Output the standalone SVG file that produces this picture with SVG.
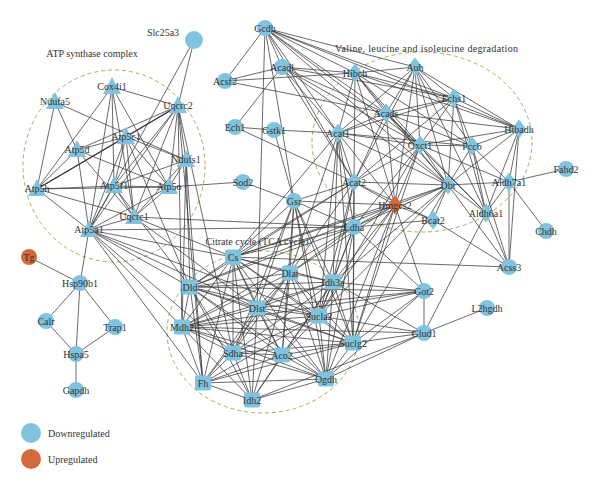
<svg xmlns="http://www.w3.org/2000/svg" xmlns:xlink="http://www.w3.org/1999/xlink" width="600" height="490" viewBox="0 0 600 490">
<style>
.e line{stroke:#3a3a3a;stroke-width:0.75}
.d{fill:#80c3df}
.u{fill:#d4693b}
text{font-family:"Liberation Serif","Times New Roman",serif;font-size:10px;fill:#333;text-anchor:middle}
.t{text-anchor:start}
.grp{fill:none;stroke:#8fbb5b;stroke-width:1;stroke-dasharray:4 3}
</style>
<defs>
<path id="tri" d="M0,-10 L9,7 L-9,7 Z"/>
<path id="dia" d="M0,-9.5 L7.5,0 L0,9.5 L-7.5,0 Z"/>
<rect id="sq" x="-8" y="-7.5" width="16" height="15" rx="2"/>
<circle id="cir" r="8"/>
</defs>
<rect width="600" height="490" fill="#fff"/>
<g id="groups">
<ellipse class="grp" cx="114" cy="166" rx="91" ry="96"/>
<ellipse class="grp" cx="422" cy="142" rx="110" ry="90"/>
<ellipse class="grp" cx="263" cy="332" rx="96" ry="81"/>
<text x="92" y="57">ATP synthase complex</text>
<text class="t" x="335" y="52" textLength="183">Valine, leucine and isoleucine degradation</text>
<text x="257" y="245">Citrate cycle (TCA cycle)</text>
</g>
<g class="e" id="connectors">
<line x1="29" y1="257" x2="80" y2="283"/>
<line x1="80" y1="283" x2="46" y2="321"/>
<line x1="80" y1="283" x2="115" y2="327"/>
<line x1="80" y1="283" x2="76" y2="354"/>
<line x1="46" y1="321" x2="76" y2="354"/>
<line x1="115" y1="327" x2="76" y2="354"/>
<line x1="76" y1="354" x2="76" y2="390"/>
<line x1="80" y1="283" x2="89" y2="230"/>
<line x1="194" y1="40" x2="178" y2="106"/>
<line x1="194" y1="40" x2="89" y2="230"/>
<line x1="112" y1="87" x2="178" y2="106"/>
<line x1="112" y1="87" x2="37" y2="189"/>
<line x1="112" y1="87" x2="114" y2="186"/>
<line x1="112" y1="87" x2="169" y2="187"/>
<line x1="112" y1="87" x2="134" y2="217"/>
<line x1="112" y1="87" x2="89" y2="230"/>
<line x1="55" y1="102" x2="186" y2="160"/>
<line x1="55" y1="102" x2="37" y2="189"/>
<line x1="55" y1="102" x2="77" y2="150"/>
<line x1="178" y1="106" x2="126" y2="137"/>
<line x1="178" y1="106" x2="77" y2="150"/>
<line x1="178" y1="106" x2="37" y2="189" style="stroke-width:1.3"/>
<line x1="178" y1="106" x2="114" y2="186"/>
<line x1="178" y1="106" x2="169" y2="187"/>
<line x1="178" y1="106" x2="134" y2="217"/>
<line x1="178" y1="106" x2="89" y2="230"/>
<line x1="178" y1="106" x2="186" y2="160"/>
<line x1="178" y1="106" x2="182" y2="327"/>
<line x1="178" y1="106" x2="203" y2="383"/>
<line x1="178" y1="106" x2="233" y2="353"/>
<line x1="126" y1="137" x2="77" y2="150"/>
<line x1="126" y1="137" x2="37" y2="189"/>
<line x1="126" y1="137" x2="186" y2="160"/>
<line x1="126" y1="137" x2="114" y2="186"/>
<line x1="126" y1="137" x2="169" y2="187"/>
<line x1="126" y1="137" x2="134" y2="217"/>
<line x1="126" y1="137" x2="89" y2="230"/>
<line x1="126" y1="137" x2="190" y2="287"/>
<line x1="77" y1="150" x2="37" y2="189"/>
<line x1="77" y1="150" x2="169" y2="187"/>
<line x1="77" y1="150" x2="134" y2="217"/>
<line x1="77" y1="150" x2="89" y2="230"/>
<line x1="37" y1="189" x2="114" y2="186"/>
<line x1="37" y1="189" x2="169" y2="187"/>
<line x1="37" y1="189" x2="134" y2="217"/>
<line x1="37" y1="189" x2="89" y2="230"/>
<line x1="114" y1="186" x2="169" y2="187"/>
<line x1="114" y1="186" x2="89" y2="230"/>
<line x1="114" y1="186" x2="134" y2="217"/>
<line x1="114" y1="186" x2="190" y2="287"/>
<line x1="169" y1="187" x2="243" y2="182"/>
<line x1="169" y1="187" x2="89" y2="230"/>
<line x1="169" y1="187" x2="134" y2="217"/>
<line x1="186" y1="160" x2="169" y2="187"/>
<line x1="186" y1="160" x2="114" y2="186"/>
<line x1="186" y1="160" x2="134" y2="217"/>
<line x1="186" y1="160" x2="182" y2="327"/>
<line x1="186" y1="160" x2="203" y2="383"/>
<line x1="186" y1="160" x2="190" y2="287"/>
<line x1="134" y1="217" x2="89" y2="230"/>
<line x1="134" y1="217" x2="233" y2="257"/>
<line x1="134" y1="217" x2="257" y2="308"/>
<line x1="134" y1="217" x2="354" y2="227"/>
<line x1="89" y1="230" x2="354" y2="227"/>
<line x1="89" y1="230" x2="190" y2="287"/>
<line x1="89" y1="230" x2="182" y2="327"/>
<line x1="89" y1="230" x2="233" y2="257"/>
<line x1="89" y1="230" x2="257" y2="308"/>
<line x1="89" y1="230" x2="233" y2="353"/>
<line x1="89" y1="230" x2="203" y2="383"/>
<line x1="89" y1="230" x2="319" y2="316"/>
<line x1="265" y1="28" x2="225" y2="81"/>
<line x1="265" y1="28" x2="282" y2="67"/>
<line x1="265" y1="28" x2="355" y2="73"/>
<line x1="265" y1="28" x2="415" y2="67"/>
<line x1="265" y1="28" x2="454" y2="98"/>
<line x1="265" y1="28" x2="386" y2="113"/>
<line x1="265" y1="28" x2="519" y2="129"/>
<line x1="265" y1="28" x2="420" y2="145"/>
<line x1="265" y1="28" x2="338" y2="133"/>
<line x1="265" y1="28" x2="354" y2="182"/>
<line x1="265" y1="28" x2="294" y2="201"/>
<line x1="265" y1="28" x2="257" y2="308"/>
<line x1="265" y1="28" x2="448" y2="185"/>
<line x1="225" y1="81" x2="282" y2="67"/>
<line x1="225" y1="81" x2="355" y2="73"/>
<line x1="225" y1="81" x2="386" y2="113"/>
<line x1="282" y1="67" x2="355" y2="73"/>
<line x1="282" y1="67" x2="454" y2="98"/>
<line x1="282" y1="67" x2="338" y2="133"/>
<line x1="282" y1="67" x2="354" y2="182"/>
<line x1="282" y1="67" x2="235" y2="127"/>
<line x1="282" y1="67" x2="386" y2="113"/>
<line x1="282" y1="67" x2="420" y2="145"/>
<line x1="282" y1="67" x2="448" y2="185"/>
<line x1="235" y1="127" x2="274" y2="130"/>
<line x1="274" y1="130" x2="338" y2="133"/>
<line x1="235" y1="127" x2="354" y2="182"/>
<line x1="274" y1="130" x2="294" y2="201"/>
<line x1="243" y1="182" x2="294" y2="201"/>
<line x1="355" y1="73" x2="415" y2="67"/>
<line x1="355" y1="73" x2="454" y2="98"/>
<line x1="355" y1="73" x2="386" y2="113"/>
<line x1="355" y1="73" x2="519" y2="129"/>
<line x1="355" y1="73" x2="338" y2="133"/>
<line x1="355" y1="73" x2="420" y2="145"/>
<line x1="355" y1="73" x2="472" y2="146"/>
<line x1="355" y1="73" x2="354" y2="182"/>
<line x1="355" y1="73" x2="448" y2="185"/>
<line x1="355" y1="73" x2="395" y2="205"/>
<line x1="415" y1="67" x2="454" y2="98"/>
<line x1="415" y1="67" x2="386" y2="113"/>
<line x1="415" y1="67" x2="519" y2="129"/>
<line x1="415" y1="67" x2="338" y2="133"/>
<line x1="415" y1="67" x2="420" y2="145"/>
<line x1="415" y1="67" x2="472" y2="146"/>
<line x1="415" y1="67" x2="354" y2="182"/>
<line x1="415" y1="67" x2="448" y2="185"/>
<line x1="415" y1="67" x2="395" y2="205"/>
<line x1="415" y1="67" x2="486" y2="213"/>
<line x1="454" y1="98" x2="386" y2="113"/>
<line x1="454" y1="98" x2="519" y2="129"/>
<line x1="454" y1="98" x2="338" y2="133"/>
<line x1="454" y1="98" x2="420" y2="145"/>
<line x1="454" y1="98" x2="472" y2="146"/>
<line x1="454" y1="98" x2="354" y2="182"/>
<line x1="454" y1="98" x2="448" y2="185"/>
<line x1="454" y1="98" x2="486" y2="213"/>
<line x1="386" y1="113" x2="519" y2="129"/>
<line x1="386" y1="113" x2="338" y2="133"/>
<line x1="386" y1="113" x2="420" y2="145"/>
<line x1="386" y1="113" x2="472" y2="146"/>
<line x1="386" y1="113" x2="354" y2="182"/>
<line x1="386" y1="113" x2="448" y2="185"/>
<line x1="386" y1="113" x2="395" y2="205"/>
<line x1="386" y1="113" x2="486" y2="213"/>
<line x1="519" y1="129" x2="472" y2="146"/>
<line x1="519" y1="129" x2="420" y2="145"/>
<line x1="519" y1="129" x2="448" y2="185"/>
<line x1="519" y1="129" x2="509" y2="182"/>
<line x1="519" y1="129" x2="486" y2="213"/>
<line x1="519" y1="129" x2="509" y2="267"/>
<line x1="338" y1="133" x2="420" y2="145"/>
<line x1="338" y1="133" x2="472" y2="146"/>
<line x1="338" y1="133" x2="354" y2="182"/>
<line x1="338" y1="133" x2="448" y2="185"/>
<line x1="338" y1="133" x2="395" y2="205"/>
<line x1="338" y1="133" x2="354" y2="227"/>
<line x1="338" y1="133" x2="333" y2="282"/>
<line x1="338" y1="133" x2="290" y2="273"/>
<line x1="338" y1="133" x2="233" y2="257"/>
<line x1="338" y1="133" x2="319" y2="316"/>
<line x1="338" y1="133" x2="353" y2="343"/>
<line x1="420" y1="145" x2="472" y2="146"/>
<line x1="420" y1="145" x2="354" y2="182"/>
<line x1="420" y1="145" x2="448" y2="185"/>
<line x1="420" y1="145" x2="395" y2="205"/>
<line x1="420" y1="145" x2="486" y2="213"/>
<line x1="420" y1="145" x2="354" y2="227"/>
<line x1="420" y1="145" x2="353" y2="343"/>
<line x1="420" y1="145" x2="319" y2="316"/>
<line x1="472" y1="146" x2="448" y2="185"/>
<line x1="472" y1="146" x2="509" y2="182"/>
<line x1="472" y1="146" x2="486" y2="213"/>
<line x1="472" y1="146" x2="509" y2="267"/>
<line x1="354" y1="182" x2="448" y2="185"/>
<line x1="354" y1="182" x2="395" y2="205"/>
<line x1="354" y1="182" x2="354" y2="227"/>
<line x1="354" y1="182" x2="233" y2="257"/>
<line x1="354" y1="182" x2="290" y2="273"/>
<line x1="354" y1="182" x2="333" y2="282"/>
<line x1="354" y1="182" x2="319" y2="316"/>
<line x1="354" y1="182" x2="353" y2="343"/>
<line x1="354" y1="182" x2="190" y2="287"/>
<line x1="354" y1="182" x2="433" y2="220"/>
<line x1="354" y1="182" x2="294" y2="201"/>
<line x1="448" y1="185" x2="395" y2="205"/>
<line x1="448" y1="185" x2="509" y2="182"/>
<line x1="448" y1="185" x2="486" y2="213"/>
<line x1="448" y1="185" x2="433" y2="220"/>
<line x1="448" y1="185" x2="354" y2="227"/>
<line x1="448" y1="185" x2="509" y2="267"/>
<line x1="448" y1="185" x2="333" y2="282"/>
<line x1="448" y1="185" x2="319" y2="316"/>
<line x1="448" y1="185" x2="353" y2="343"/>
<line x1="448" y1="185" x2="233" y2="257"/>
<line x1="509" y1="182" x2="566" y2="169"/>
<line x1="509" y1="182" x2="546" y2="231"/>
<line x1="509" y1="182" x2="486" y2="213"/>
<line x1="509" y1="182" x2="509" y2="267"/>
<line x1="509" y1="182" x2="420" y2="145"/>
<line x1="486" y1="213" x2="509" y2="267"/>
<line x1="486" y1="213" x2="424" y2="333"/>
<line x1="433" y1="220" x2="395" y2="205"/>
<line x1="433" y1="220" x2="354" y2="227"/>
<line x1="433" y1="220" x2="509" y2="267"/>
<line x1="395" y1="205" x2="354" y2="227"/>
<line x1="395" y1="205" x2="233" y2="257"/>
<line x1="395" y1="205" x2="290" y2="273"/>
<line x1="395" y1="205" x2="333" y2="282"/>
<line x1="395" y1="205" x2="319" y2="316"/>
<line x1="395" y1="205" x2="353" y2="343"/>
<line x1="395" y1="205" x2="424" y2="291"/>
<line x1="395" y1="205" x2="326" y2="379"/>
<line x1="395" y1="205" x2="294" y2="201"/>
<line x1="395" y1="205" x2="190" y2="287"/>
<line x1="354" y1="227" x2="233" y2="257"/>
<line x1="354" y1="227" x2="290" y2="273"/>
<line x1="354" y1="227" x2="333" y2="282"/>
<line x1="354" y1="227" x2="319" y2="316"/>
<line x1="354" y1="227" x2="353" y2="343"/>
<line x1="354" y1="227" x2="424" y2="291"/>
<line x1="354" y1="227" x2="326" y2="379"/>
<line x1="354" y1="227" x2="190" y2="287"/>
<line x1="354" y1="227" x2="182" y2="327"/>
<line x1="233" y1="257" x2="509" y2="267"/>
<line x1="424" y1="291" x2="424" y2="333"/>
<line x1="424" y1="291" x2="333" y2="282"/>
<line x1="424" y1="291" x2="319" y2="316"/>
<line x1="424" y1="291" x2="353" y2="343"/>
<line x1="424" y1="291" x2="326" y2="379"/>
<line x1="424" y1="291" x2="257" y2="308"/>
<line x1="424" y1="291" x2="182" y2="327"/>
<line x1="424" y1="291" x2="190" y2="287"/>
<line x1="424" y1="333" x2="487" y2="308"/>
<line x1="424" y1="333" x2="353" y2="343"/>
<line x1="424" y1="333" x2="326" y2="379"/>
<line x1="424" y1="333" x2="319" y2="316"/>
<line x1="424" y1="333" x2="182" y2="327"/>
<line x1="424" y1="333" x2="252" y2="400"/>
<line x1="424" y1="333" x2="333" y2="282"/>
<line x1="294" y1="201" x2="233" y2="257"/>
<line x1="294" y1="201" x2="290" y2="273"/>
<line x1="294" y1="201" x2="333" y2="282"/>
<line x1="294" y1="201" x2="257" y2="308"/>
<line x1="294" y1="201" x2="319" y2="316"/>
<line x1="294" y1="201" x2="282" y2="355"/>
<line x1="294" y1="201" x2="326" y2="379"/>
<line x1="294" y1="201" x2="353" y2="343"/>
<line x1="294" y1="201" x2="233" y2="353"/>
<line x1="294" y1="201" x2="354" y2="227"/>
<line x1="233" y1="257" x2="290" y2="273"/>
<line x1="233" y1="257" x2="333" y2="282"/>
<line x1="233" y1="257" x2="190" y2="287"/>
<line x1="233" y1="257" x2="257" y2="308"/>
<line x1="233" y1="257" x2="319" y2="316"/>
<line x1="233" y1="257" x2="182" y2="327"/>
<line x1="233" y1="257" x2="353" y2="343"/>
<line x1="233" y1="257" x2="233" y2="353"/>
<line x1="233" y1="257" x2="282" y2="355"/>
<line x1="233" y1="257" x2="203" y2="383"/>
<line x1="233" y1="257" x2="326" y2="379"/>
<line x1="233" y1="257" x2="252" y2="400"/>
<line x1="290" y1="273" x2="333" y2="282"/>
<line x1="290" y1="273" x2="190" y2="287"/>
<line x1="290" y1="273" x2="257" y2="308"/>
<line x1="290" y1="273" x2="319" y2="316"/>
<line x1="290" y1="273" x2="182" y2="327"/>
<line x1="290" y1="273" x2="353" y2="343"/>
<line x1="290" y1="273" x2="233" y2="353"/>
<line x1="290" y1="273" x2="282" y2="355"/>
<line x1="290" y1="273" x2="203" y2="383"/>
<line x1="290" y1="273" x2="326" y2="379"/>
<line x1="290" y1="273" x2="252" y2="400"/>
<line x1="333" y1="282" x2="190" y2="287"/>
<line x1="333" y1="282" x2="257" y2="308"/>
<line x1="333" y1="282" x2="319" y2="316"/>
<line x1="333" y1="282" x2="182" y2="327"/>
<line x1="333" y1="282" x2="353" y2="343"/>
<line x1="333" y1="282" x2="233" y2="353"/>
<line x1="333" y1="282" x2="282" y2="355"/>
<line x1="333" y1="282" x2="326" y2="379"/>
<line x1="333" y1="282" x2="252" y2="400"/>
<line x1="190" y1="287" x2="257" y2="308"/>
<line x1="190" y1="287" x2="319" y2="316"/>
<line x1="190" y1="287" x2="182" y2="327"/>
<line x1="190" y1="287" x2="353" y2="343"/>
<line x1="190" y1="287" x2="233" y2="353"/>
<line x1="190" y1="287" x2="282" y2="355"/>
<line x1="190" y1="287" x2="203" y2="383"/>
<line x1="190" y1="287" x2="326" y2="379"/>
<line x1="190" y1="287" x2="252" y2="400"/>
<line x1="257" y1="308" x2="319" y2="316"/>
<line x1="257" y1="308" x2="182" y2="327"/>
<line x1="257" y1="308" x2="353" y2="343"/>
<line x1="257" y1="308" x2="233" y2="353"/>
<line x1="257" y1="308" x2="282" y2="355"/>
<line x1="257" y1="308" x2="203" y2="383"/>
<line x1="257" y1="308" x2="326" y2="379"/>
<line x1="257" y1="308" x2="252" y2="400"/>
<line x1="319" y1="316" x2="182" y2="327"/>
<line x1="319" y1="316" x2="353" y2="343"/>
<line x1="319" y1="316" x2="233" y2="353"/>
<line x1="319" y1="316" x2="282" y2="355"/>
<line x1="319" y1="316" x2="326" y2="379"/>
<line x1="319" y1="316" x2="203" y2="383"/>
<line x1="182" y1="327" x2="353" y2="343"/>
<line x1="182" y1="327" x2="233" y2="353"/>
<line x1="182" y1="327" x2="282" y2="355"/>
<line x1="182" y1="327" x2="203" y2="383"/>
<line x1="182" y1="327" x2="326" y2="379"/>
<line x1="182" y1="327" x2="252" y2="400"/>
<line x1="353" y1="343" x2="233" y2="353"/>
<line x1="353" y1="343" x2="282" y2="355"/>
<line x1="353" y1="343" x2="326" y2="379"/>
<line x1="353" y1="343" x2="203" y2="383"/>
<line x1="233" y1="353" x2="282" y2="355"/>
<line x1="233" y1="353" x2="203" y2="383"/>
<line x1="233" y1="353" x2="326" y2="379"/>
<line x1="233" y1="353" x2="252" y2="400"/>
<line x1="282" y1="355" x2="203" y2="383"/>
<line x1="282" y1="355" x2="326" y2="379"/>
<line x1="282" y1="355" x2="252" y2="400"/>
<line x1="203" y1="383" x2="326" y2="379"/>
<line x1="203" y1="383" x2="252" y2="400"/>
<line x1="326" y1="379" x2="252" y2="400"/>
</g>
<g id="nodes">
<g id="n-Slc25a3"><circle class="d" cx="194" cy="40" r="9"/><text x="163" y="36">Slc25a3</text></g>
<g id="n-Cox4i1"><use href="#tri" class="d" x="112" y="87"/><text x="112" y="90">Cox4i1</text></g>
<g id="n-Ndufa5"><use href="#tri" class="d" x="55" y="102"/><text x="55" y="105">Ndufa5</text></g>
<g id="n-Uqcrc2"><use href="#tri" class="d" x="178" y="106"/><text x="178" y="109">Uqcrc2</text></g>
<g id="n-Atp5c1"><use href="#tri" class="d" x="126" y="137"/><text x="126" y="140">Atp5c1</text></g>
<g id="n-Atp5d"><use href="#tri" class="d" x="77" y="150"/><text x="77" y="153">Atp5d</text></g>
<g id="n-Ndufs1"><use href="#tri" class="d" x="186" y="160"/><text x="186" y="163">Ndufs1</text></g>
<g id="n-Atp5h"><use href="#tri" class="d" x="37" y="189"/><text x="37" y="192">Atp5h</text></g>
<g id="n-Atp5f1"><use href="#tri" class="d" x="114" y="186"/><text x="114" y="189">Atp5f1</text></g>
<g id="n-Atp5o"><use href="#tri" class="d" x="169" y="187"/><text x="169" y="190">Atp5o</text></g>
<g id="n-Uqcrc1"><use href="#tri" class="d" x="134" y="217"/><text x="134" y="220">Uqcrc1</text></g>
<g id="n-Atp5a1"><use href="#tri" class="d" x="89" y="230"/><text x="89" y="233">Atp5a1</text></g>
<g id="n-Gcdh"><use href="#cir" class="d" x="265" y="28"/><text x="265" y="31.5">Gcdh</text></g>
<g id="n-Acadl"><use href="#cir" class="d" x="282" y="67"/><text x="282" y="70.5">Acadl</text></g>
<g id="n-Acsf2"><use href="#cir" class="d" x="225" y="81"/><text x="225" y="84.5">Acsf2</text></g>
<g id="n-Ech1"><use href="#cir" class="d" x="235" y="127"/><text x="235" y="130.5">Ech1</text></g>
<g id="n-Gstk1"><use href="#cir" class="d" x="274" y="130"/><text x="274" y="133.5">Gstk1</text></g>
<g id="n-Sod2"><use href="#cir" class="d" x="243" y="182"/><text x="243" y="185.5">Sod2</text></g>
<g id="n-Gsr"><use href="#cir" class="d" x="294" y="201"/><text x="294" y="204.5">Gsr</text></g>
<g id="n-Auh"><use href="#dia" class="d" x="415" y="67"/><text x="415" y="70.5">Auh</text></g>
<g id="n-Hibch"><use href="#dia" class="d" x="355" y="73"/><text x="355" y="76.5">Hibch</text></g>
<g id="n-Echs1"><use href="#dia" class="d" x="454" y="98"/><text x="454" y="101.5">Echs1</text></g>
<g id="n-Acads"><use href="#dia" class="d" x="386" y="113"/><text x="386" y="116.5">Acads</text></g>
<g id="n-Hibadh"><use href="#dia" class="d" x="519" y="129"/><text x="519" y="132.5">Hibadh</text></g>
<g id="n-Acat1"><use href="#dia" class="d" x="338" y="133"/><text x="338" y="136.5">Acat1</text></g>
<g id="n-Oxct1"><use href="#dia" class="d" x="420" y="145"/><text x="420" y="148.5">Oxct1</text></g>
<g id="n-Pccb"><use href="#dia" class="d" x="472" y="146"/><text x="472" y="149.5">Pccb</text></g>
<g id="n-Acat2"><use href="#dia" class="d" x="354" y="182"/><text x="354" y="185.5">Acat2</text></g>
<g id="n-Dbt"><use href="#dia" class="d" x="448" y="185"/><text x="448" y="188.5">Dbt</text></g>
<g id="n-Aldh7a1"><use href="#dia" class="d" x="509" y="182"/><text x="509" y="185.5">Aldh7a1</text></g>
<g id="n-Hmgcs2"><use href="#dia" class="u" x="395" y="205"/><text x="395" y="208.5">Hmgcs2</text></g>
<g id="n-Aldh6a1"><use href="#dia" class="d" x="486" y="213"/><text x="486" y="216.5">Aldh6a1</text></g>
<g id="n-Bcat2"><use href="#dia" class="d" x="433" y="220"/><text x="433" y="223.5">Bcat2</text></g>
<g id="n-Fahd2"><use href="#cir" class="d" x="566" y="169"/><text x="566" y="172.5">Fahd2</text></g>
<g id="n-Chdh"><use href="#cir" class="d" x="546" y="231"/><text x="546" y="234.5">Chdh</text></g>
<g id="n-Ldha"><use href="#cir" class="d" x="354" y="227"/><text x="354" y="230.5">Ldha</text></g>
<g id="n-Acss3"><use href="#cir" class="d" x="509" y="267"/><text x="509" y="270.5">Acss3</text></g>
<g id="n-Got2"><use href="#cir" class="d" x="424" y="291"/><text x="424" y="294.5">Got2</text></g>
<g id="n-L2hgdh"><use href="#cir" class="d" x="487" y="308"/><text x="487" y="311.5">L2hgdh</text></g>
<g id="n-Glud1"><use href="#cir" class="d" x="424" y="333"/><text x="424" y="336.5">Glud1</text></g>
<g id="n-Cs"><use href="#sq" class="d" x="233" y="257"/><text x="233" y="260.5">Cs</text></g>
<g id="n-Dlat"><use href="#sq" class="d" x="290" y="273"/><text x="290" y="276.5">Dlat</text></g>
<g id="n-Idh3a"><use href="#sq" class="d" x="333" y="282"/><text x="333" y="285.5">Idh3a</text></g>
<g id="n-Dld"><use href="#sq" class="d" x="190" y="287"/><text x="190" y="290.5">Dld</text></g>
<g id="n-Dlst"><use href="#sq" class="d" x="257" y="308"/><text x="257" y="311.5">Dlst</text></g>
<g id="n-Sucla2"><use href="#sq" class="d" x="319" y="316"/><text x="319" y="319.5">Sucla2</text></g>
<g id="n-Mdh2"><use href="#sq" class="d" x="182" y="327"/><text x="182" y="330.5">Mdh2</text></g>
<g id="n-Suclg2"><use href="#sq" class="d" x="353" y="343"/><text x="353" y="346.5">Suclg2</text></g>
<g id="n-Sdha"><use href="#sq" class="d" x="233" y="353"/><text x="233" y="356.5">Sdha</text></g>
<g id="n-Aco2"><use href="#sq" class="d" x="282" y="355"/><text x="282" y="358.5">Aco2</text></g>
<g id="n-Fh"><use href="#sq" class="d" x="203" y="383"/><text x="203" y="386.5">Fh</text></g>
<g id="n-Ogdh"><use href="#sq" class="d" x="326" y="379"/><text x="326" y="382.5">Ogdh</text></g>
<g id="n-Idh2"><use href="#sq" class="d" x="252" y="400"/><text x="252" y="403.5">Idh2</text></g>
<g id="n-Tg"><use href="#cir" class="u" x="29" y="257"/><text x="29" y="260.5">Tg</text></g>
<g id="n-Hsp90b1"><use href="#cir" class="d" x="80" y="283"/><text x="80" y="286.5">Hsp90b1</text></g>
<g id="n-Calr"><use href="#cir" class="d" x="46" y="321"/><text x="46" y="324.5">Calr</text></g>
<g id="n-Trap1"><use href="#cir" class="d" x="115" y="327"/><text x="115" y="330.5">Trap1</text></g>
<g id="n-Hspa5"><use href="#cir" class="d" x="76" y="354"/><text x="76" y="357.5">Hspa5</text></g>
<g id="n-Gapdh"><use href="#cir" class="d" x="76" y="390"/><text x="76" y="393.5">Gapdh</text></g>
</g>
<g id="legend">
<circle class="d" cx="31" cy="433" r="10"/>
<text class="t" x="48" y="437">Downregulated</text>
<circle class="u" cx="31" cy="459" r="10"/>
<text class="t" x="48" y="463">Upregulated</text>
</g>
</svg>
